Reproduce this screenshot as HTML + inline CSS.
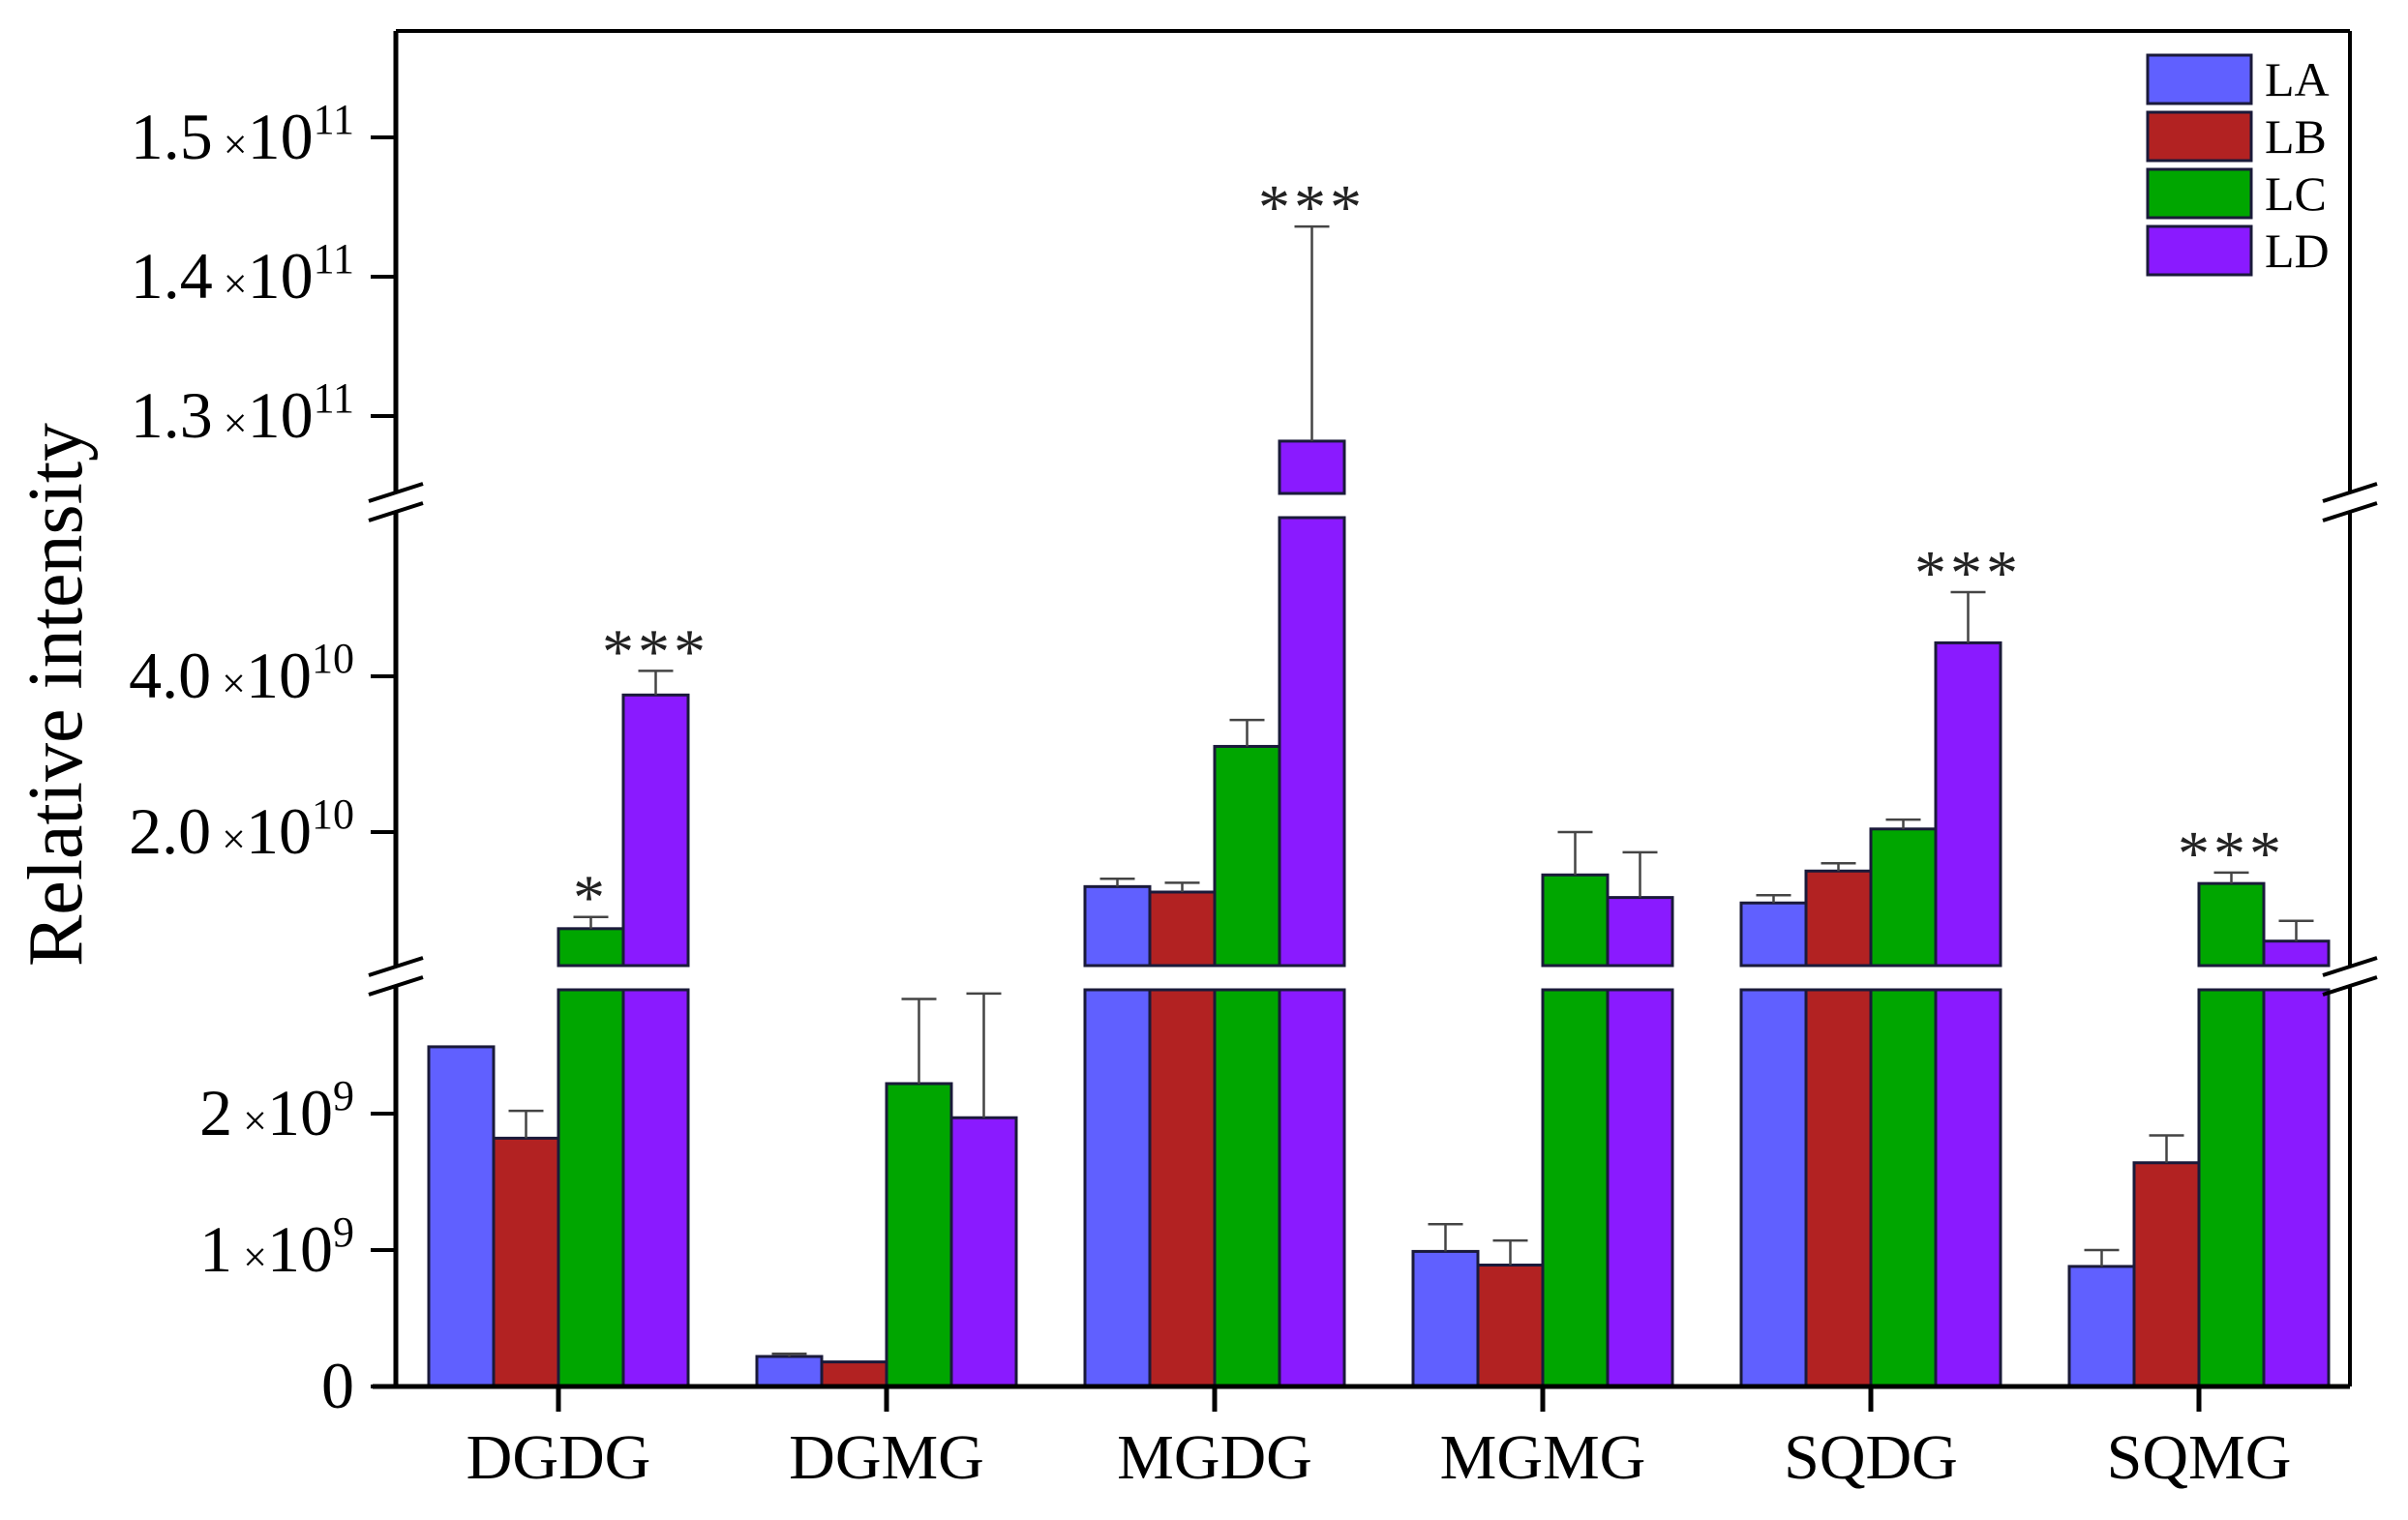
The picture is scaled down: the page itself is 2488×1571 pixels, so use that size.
<!DOCTYPE html>
<html><head><meta charset="utf-8"><style>
html,body{margin:0;padding:0;background:#fff;}
svg{display:block;font-family:"Liberation Serif",serif;}
</style></head><body>
<svg id="chart" width="2488" height="1571" viewBox="0 0 2488 1571" xmlns="http://www.w3.org/2000/svg">
<g id="plot"></g>
</svg>
<script>
const categories = ["DGDG","DGMG","MGDG","MGMG","SQDG","SQMG"];
const seriesNames = ["LA","LB","LC","LD"];
const LA = [2.49e9, 0.22e9, 1.30e10, 0.99e9, 1.09e10, 0.88e9];
const LB = [1.82e9, 0.18e9, 1.23e10, 0.89e9, 1.50e10, 1.64e9];
const LC = [7.6e9, 2.22e9, 3.10e10, 1.45e10, 2.04e10, 1.34e10];
const LD = [3.76e10, 1.97e9, 1.282e11, 1.16e10, 4.43e10, 6.0e9];
const LA_err = [0, 0.02e9, 0.1e10, 0.2e9, 0.1e10, 0.12e9];
const LB_err = [0.2e9, 0, 0.12e10, 0.18e9, 0.1e10, 0.2e9];
const LC_err = [1.5e9, 0.62e9, 0.34e10, 0.55e10, 0.12e10, 0.14e10];
const LD_err = [0.31e10, 0.91e9, 1.54e10, 0.58e10, 0.65e10, 2.6e9];
const stars = [["","","*","***"],["","","",""],["","","","***"],["","","",""],["","","","***"],["","","***",""]];
const yTicks = [0, 1e9, 2e9, 2e10, 4e10, 1.3e11, 1.4e11, 1.5e11];
const yTickMant = ["0","1","2","2.0","4.0","1.3","1.4","1.5"];
const yTickExp = ["","9","9","10","10","11","11","11"];

const colors = ["#6060ff","#b22222","#00a600","#8a1aff"];
const NS = "http://www.w3.org/2000/svg";
const g = document.getElementById("plot");
const L = 409, R = 2428, T = 32, B = 1433;
const segs = [
  {lo:0, hi:2.9e9, pb:1433, pt:1023, f:v=>1433 - v/1e9*141},
  {lo:2.9e9, hi:6.0e10, pb:998, pt:535, f:v=>860 - (v-2e10)/2e10*161},
  {lo:1.244e11, hi:1.58e11, pb:510, pt:32, f:v=>430 - (v-1.3e11)/1e10*144}
];
function segOf(v){ for (let i=segs.length-1;i>=0;i--) if (v>=segs[i].lo) return segs[i]; return segs[0]; }
function y(v){ return segOf(v).f(v); }
const groupX0 = 577, groupStep = 339, barW = 67;
function xCenter(i){ return groupX0 + i*groupStep; }
function mk(tag, attrs, name, parent){
  const e = document.createElementNS(NS, tag);
  for (const k in attrs) e.setAttribute(k, attrs[k]);
  
  
  (parent||g).appendChild(e);
  return e;
}
const all = [LA, LB, LC, LD];
const errs = [LA_err, LB_err, LC_err, LD_err];
categories.forEach((c, i) => {
  all.forEach((arr, s) => {
    const v = arr[i];
    const x = xCenter(i) + (s-2)*barW;
    segs.forEach(sg => {
      if (v <= sg.lo) return;
      const top = v >= sg.hi ? sg.pt : sg.f(v);
      const r = document.createElementNS(NS, 'rect');
      r.setAttribute('x', x); r.setAttribute('y', top);
      r.setAttribute('width', barW); r.setAttribute('height', sg.pb - top);
      r.setAttribute('fill', colors[s]); r.setAttribute('stroke', '#1a1a3a'); r.setAttribute('stroke-width', 3);
      
      
      g.appendChild(r);
    });
    const e = errs[s][i];
    if (e > 0) {
      const cx = x + barW/2, y0 = y(v), y1 = y(v+e);
      mk('line', {x1:cx, y1:y0, x2:cx, y2:y1, stroke:'#444', 'stroke-width':2.5}, 'error-bar');
      mk('line', {x1:cx-18, y1:y1, x2:cx+18, y2:y1, stroke:'#444', 'stroke-width':2.5}, 'error-cap');
    }
    const st = stars[i][s];
    if (st) {
      const t = mk('text', {x:x+barW/2, y:y(v+e)+2, 'text-anchor':'middle', 'font-size':66, 'letter-spacing':4, fill:'#222'}, 'significance-mark');
      t.textContent = st;
    }
  });
  mk('line', {x1:xCenter(i), y1:B, x2:xCenter(i), y2:B+26, stroke:'#000', 'stroke-width':5}, 'x-tick');
  const lt = mk('text', {x:xCenter(i), y:1528, 'text-anchor':'middle', 'font-size':66, fill:'#000'}, 'x-tick-label');
  lt.textContent = c;
});
mk('line', {x1:L, y1:T, x2:R, y2:T, stroke:'#000', 'stroke-width':4}, 'top-border');
mk('line', {x1:R, y1:T, x2:R, y2:B, stroke:'#000', 'stroke-width':4}, 'right-border');
mk('line', {x1:L, y1:T, x2:L, y2:B, stroke:'#000', 'stroke-width':5}, 'y-axis');
mk('line', {x1:385, y1:B, x2:R, y2:B, stroke:'#000', 'stroke-width':5}, 'x-axis');
[[520],[1010]].forEach(([by]) => {
  [L, R].forEach(ax => {
    mk('rect', {x:ax-6, y:by-10, width:12, height:20, fill:'#fff'}, 'axis-break-gap');
    mk('line', {x1:ax-28, y1:by-2, x2:ax+28, y2:by-20, stroke:'#000', 'stroke-width':4}, 'axis-break-mark');
    mk('line', {x1:ax-28, y1:by+18, x2:ax+28, y2:by, stroke:'#000', 'stroke-width':4}, 'axis-break-mark');
  });
});
yTicks.forEach((v, k) => {
  const ty = y(v);
  mk('line', {x1:383, y1:ty, x2:L, y2:ty, stroke:'#000', 'stroke-width':4}, 'y-tick');
  const t = mk('text', {x:366, y:ty+22, 'text-anchor':'end', 'font-size':68, fill:'#000'}, 'y-tick-label');
  if (yTickExp[k]) {
    const a = document.createElementNS(NS,'tspan'); a.textContent = yTickMant[k]; t.appendChild(a);
    const b = document.createElementNS(NS,'tspan'); b.setAttribute('font-size', 44); b.textContent = ' \u00d7'; t.appendChild(b);
    const c2 = document.createElementNS(NS,'tspan'); c2.textContent = '10'; t.appendChild(c2);
    const d = document.createElementNS(NS,'tspan'); d.setAttribute('font-size', 44); d.setAttribute('dy', -26); d.textContent = yTickExp[k]; t.appendChild(d);
  } else { t.textContent = yTickMant[k]; }
});
const yt = mk('text', {x:0, y:0, transform:'translate(84,718) rotate(-90)', 'text-anchor':'middle', 'font-size':80, fill:'#000'}, 'y-axis-title');
yt.textContent = 'Relative intensity';
const legY = [57, 116, 175, 234];
seriesNames.forEach((n, s) => {
  mk('rect', {x:2219, y:legY[s], width:107, height:50, fill:colors[s], stroke:'#1a1a3a', 'stroke-width':3}, 'legend-swatch-' + n.toLowerCase());
  const t = mk('text', {x:2340, y:legY[s]+42, 'font-size':50, fill:'#000'}, 'legend-label-' + n.toLowerCase());
  t.textContent = n;
});
</script>
</body></html>
